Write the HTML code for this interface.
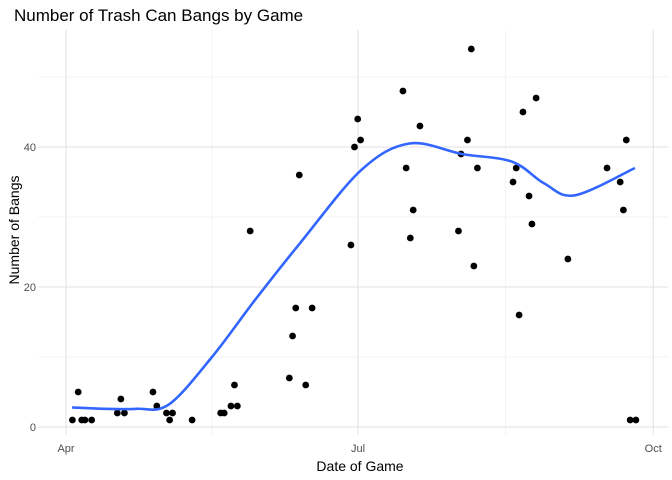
<!DOCTYPE html>
<html><head><meta charset="utf-8"><style>
body{margin:0;background:#fff}
svg{display:block;font-family:"Liberation Sans",sans-serif}
</style></head><body>
<svg id="chart" width="672" height="480">
<text x="14" y="21" font-size="17" fill="#000">Number of Trash Can Bangs by Game</text>
<g id="grid"></g><g id="marks"></g><g id="axes"></g>
<text x="360" y="471" font-size="14" text-anchor="middle">Date of Game</text>
<text transform="translate(19,230) rotate(-90)" font-size="14" text-anchor="middle">Number of Bangs</text>
</svg>
<script>
// days since Apr 1
const gameDays=[2,3.8,4.9,5.9,8,16,17.1,18.2,27.1,28.3,31.3,32.3,33.2,39.3,48.2,49.3,51.4,52.5,53.4,57.4,69.6,70.6,71.6,72.7,74.7,76.7,88.8,89.9,90.9,91.8,105,106,107.3,108.2,110.3,122.3,123.1,125.1,126.3,127.1,128.2,139.3,140.3,141.2,142.4,144.3,145.2,146.5,156.4,168.6,172.7,173.7,174.6,175.8,177.6];
const bangs=[1,5,1,1,1,2,4,2,5,3,2,1,2,1,2,2,3,6,3,28,7,13,17,36,6,17,26,40,44,41,48,37,27,31,43,28,39,41,54,23,37,35,37,16,45,33,29,47,24,37,35,31,41,1,1];
const smoothDays=[1.9,12,22,32,45.5,59,73,92,107,123.4,139,149,158.6,177.3];
const smoothVals=[2.8,2.6,2.6,3.2,10,18.2,26.3,36.7,40.5,39,37.9,34.8,33.1,37];
const xTickLabels=["Apr","Jul","Oct"];
const xTickDays=[0,91,183];
const yTicks=[0,20,40];
const NS="http://www.w3.org/2000/svg";
const xs=d=>66+d*3.209, ys=v=>427-v*7;
function mk(tag,attrs,parent){const e=document.createElementNS(NS,tag);for(const k in attrs)e.setAttribute(k,attrs[k]);parent.appendChild(e);return e;}
const grid=document.getElementById('grid'),marks=document.getElementById('marks'),axes=document.getElementById('axes');
[10,30,50].forEach(v=>{const l=mk('line',{x1:38,x2:668,y1:ys(v),y2:ys(v),stroke:'#f3f3f3','stroke-width':1},grid);

});
[45.5,137].forEach(d=>{const l=mk('line',{x1:xs(d),x2:xs(d),y1:30,y2:435,stroke:'#f3f3f3','stroke-width':1},grid);

});
yTicks.forEach(v=>{const l=mk('line',{x1:38,x2:668,y1:ys(v),y2:ys(v),stroke:'#e6e6e6','stroke-width':1.2},grid);


const t=mk('text',{x:36,y:ys(v)+4,'font-size':11,fill:'#4d4d4d','text-anchor':'end'},axes);t.textContent=v;

});
xTickDays.forEach((d,i)=>{const l=mk('line',{x1:xs(d),x2:xs(d),y1:30,y2:435,stroke:'#e6e6e6','stroke-width':1.2},grid);


const t=mk('text',{x:xs(d),y:452,'font-size':11,fill:'#4d4d4d','text-anchor':'middle'},axes);t.textContent=xTickLabels[i];

});
gameDays.forEach((d,i)=>{const c=mk('circle',{cx:xs(d),cy:ys(bangs[i]),r:3.4,fill:'#000'},marks);

});
const P=smoothDays.map((d,i)=>[xs(d),ys(smoothVals[i])]);
let dstr='M'+P[0][0]+','+P[0][1];
for(let i=0;i<P.length-1;i++){const p0=P[Math.max(0,i-1)],p1=P[i],p2=P[i+1],p3=P[Math.min(P.length-1,i+2)];
dstr+=` C${p1[0]+(p2[0]-p0[0])/6},${p1[1]+(p2[1]-p0[1])/6} ${p2[0]-(p3[0]-p1[0])/6},${p2[1]-(p3[1]-p1[1])/6} ${p2[0]},${p2[1]}`;}
const path=mk('path',{d:dstr,fill:'none',stroke:'#3366FF','stroke-width':2.6},marks);


</script>
</body></html>
